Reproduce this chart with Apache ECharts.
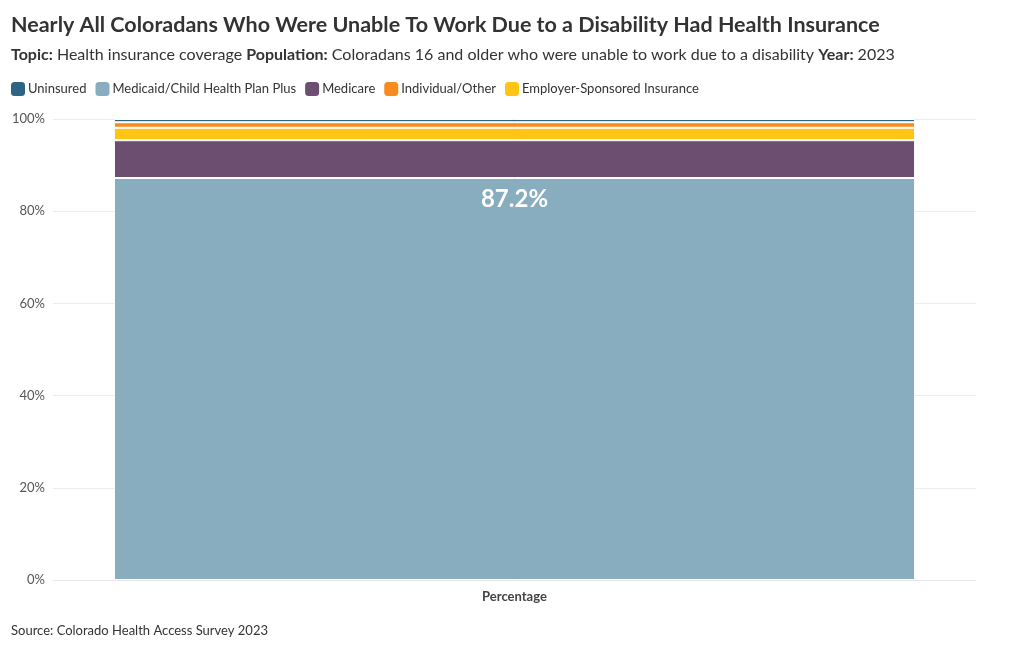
<!DOCTYPE html>
<html><head><meta charset="utf-8">
<script src="https://cdn.jsdelivr.net/npm/echarts@6/dist/echarts.min.js"></script>
<style>html,body{margin:0;padding:0;background:#fff}#c{width:1020px;height:651px}</style>
</head><body><div id="c"></div>
<script>
const categories = ['Percentage'];
const legendOrder = ['Uninsured','Medicaid/Child Health Plan Plus','Medicare','Individual/Other','Employer-Sponsored Insurance'];
// stack order bottom -> top
const stackNames = ['Medicaid/Child Health Plan Plus','Medicare','Employer-Sponsored Insurance','Individual/Other','Uninsured'];
const stackValues = [87.2, 8.2, 2.7, 1.2, 0.7];
const colors = {
  'Uninsured':'#2d6483',
  'Medicaid/Child Health Plan Plus':'#87adbe',
  'Medicare':'#6c4f70',
  'Individual/Other':'#f78b1e',
  'Employer-Sponsored Insurance':'#ffc414'
};
const yTicks = [0,20,40,60,80,100];
const FONT = 'Lato';
const chart = echarts.init(document.getElementById('c'));
const series = stackNames.map((n,i)=>({
  name:n, type:'bar', stack:'a', barWidth:'86.8%',
  data:[stackValues[i]],
  itemStyle:{color:colors[n], borderColor:'#fff', borderWidth:1},
  label: i===0 ? {show:true, position:'insideTop', distance:9, color:'#fff', fontSize:24, fontWeight:'bold', fontFamily:FONT, formatter:p=>p.value.toFixed(1)+'%'} : {show:false},
  emphasis:{disabled:true}
}));
chart.setOption({
  animation:false,
  color: stackNames.map(n=>colors[n]),
  textStyle:{fontFamily:FONT},
  title:[{
    text:'Nearly All Coloradans Who Were Unable To Work Due to a Disability Had Health Insurance',
    left:11, top:14, padding:0,
    textStyle:{fontFamily:FONT, fontSize:21.5, fontWeight:'bold', color:'#333'}
  },{
    text:'{b|Topic:} Health insurance coverage {b|Population:} Coloradans 16 and older who were unable to work due to a disability {b|Year:} 2023',
    left:11, top:47, padding:0,
    textStyle:{fontFamily:FONT, fontSize:16, fontWeight:'normal', color:'#333',
      rich:{b:{fontFamily:FONT, fontSize:16, fontWeight:'bold', color:'#333'}}}
  },{
    text:'Source: Colorado Health Access Survey 2023',
    left:11, top:624, padding:0,
    textStyle:{fontFamily:FONT, fontSize:13, fontWeight:'normal', color:'#333'}
  }],
  legend:{
    data:legendOrder.map(n=>({name:n, icon:'roundRect', itemStyle:{color:colors[n], borderWidth:0}})),
    left:11, top:82, padding:0, itemWidth:14, itemHeight:14, itemGap:9,
    textStyle:{fontFamily:FONT, fontSize:13, color:'#333', padding:[0,0,0,-2]}
  },
  grid:{left:53, right:44, top:119, bottom:71},
  xAxis:{type:'category', data:categories,
    axisLine:{lineStyle:{color:'#e6e6e6'}}, axisTick:{show:false},
    axisLabel:{fontFamily:FONT, fontSize:13, fontWeight:'bold', color:'#444', margin:10}},
  yAxis:{type:'value', min:0, max:100, interval:20,
    axisLabel:{fontFamily:FONT, fontSize:13, color:'#555', formatter:v=>v+'%'},
    splitLine:{lineStyle:{color:'#ececec'}}, axisLine:{show:false}, axisTick:{show:false}},
  series
});
</script></body></html>
